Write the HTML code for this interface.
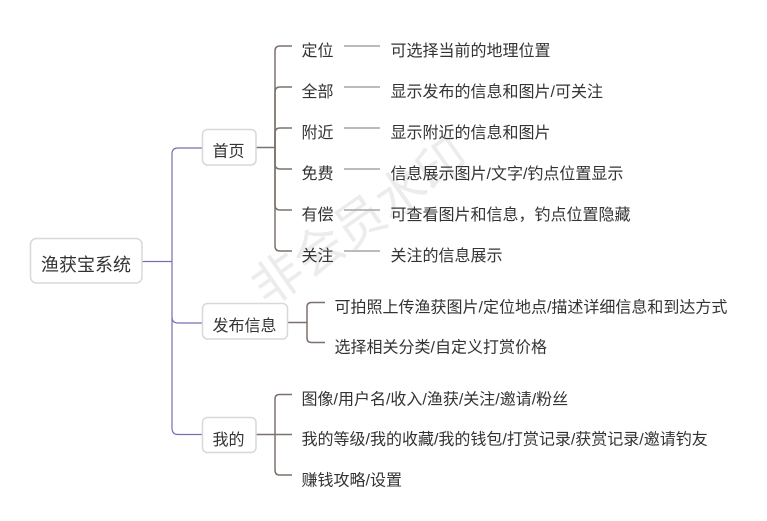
<!DOCTYPE html>
<html>
<head>
<meta charset="utf-8">
<style>
  html,body{margin:0;padding:0;background:#ffffff;}
  body{width:767px;height:521px;overflow:hidden;}
  svg{display:block;}
  text{font-family:"Liberation Sans","Noto Sans CJK SC",sans-serif;fill:#333333;}
</style>
</head>
<body>
<svg width="767" height="521" viewBox="0 0 767 521" xmlns="http://www.w3.org/2000/svg">
  <!-- watermark -->
  <text x="360" y="222" font-size="50" text-anchor="middle" dominant-baseline="central" transform="rotate(-35 360 222)" style="fill:#ececec">非会员水印</text>

  <!-- root connectors (purple) -->
  <g fill="none" stroke="#7a6db0" stroke-width="1.2">
    <path d="M142 261.5 H172"/>
    <path d="M202 148 H178 Q172 148 172 154 V261.5"/>
    <path d="M172 261.5 V317 Q172 323 178 323 H202"/>
    <path d="M172 317 V428 Q172 434.5 178 434.5 H202"/>
  </g>

  <!-- 首页 branches -->
  <g fill="none" stroke="#7b726d" stroke-width="1.5">
    <path d="M256 147.5 H275"/>
    <path d="M275 147.5 V51 Q275 46 280 46 H292"/>
    <path d="M275 147.5 V92 Q275 87 280 87 H292"/>
    <path d="M275 147.5 V133 Q275 128 280 128 H292"/>
    <path d="M275 147.5 V164 Q275 169 280 169 H292"/>
    <path d="M275 147.5 V205 Q275 210 280 210 H292"/>
    <path d="M275 147.5 V246 Q275 251 280 251 H292"/>
  </g>
  <g fill="none" stroke="#aaa4a0" stroke-width="1.5">
    <path d="M344 46 H380"/>
    <path d="M344 87 H380"/>
    <path d="M344 128 H380"/>
    <path d="M344 169 H380"/>
    <path d="M344 210 H380"/>
    <path d="M344 251 H380"/>
  </g>

  <!-- 发布信息 branches -->
  <g fill="none" stroke="#7b726d" stroke-width="1.5">
    <path d="M288 322.5 H307"/>
    <path d="M307 322.5 V307 Q307 302.5 311.5 302.5 H325"/>
    <path d="M307 322.5 V338 Q307 342.5 311.5 342.5 H325"/>
  </g>

  <!-- 我的 branches -->
  <g fill="none" stroke="#7b726d" stroke-width="1.5">
    <path d="M256 434.5 H292"/>
    <path d="M275 434.5 V399 Q275 394.5 279.5 394.5 H292"/>
    <path d="M275 434.5 V470 Q275 475 279.5 475 H292"/>
  </g>

  <!-- boxes -->
  <g fill="#ffffff" stroke="#d8d8d8" stroke-width="1.5">
    <rect x="30.5" y="238.5" width="111.5" height="44.5" rx="6"/>
    <rect x="202.5" y="129.5" width="53.5" height="35.5" rx="5"/>
    <rect x="202.5" y="303.5" width="85" height="35.5" rx="5"/>
    <rect x="202.5" y="417.5" width="53.5" height="35" rx="5"/>
  </g>

  <!-- box text -->
  <text x="41" y="271" font-size="18">渔获宝系统</text>
  <text x="212.5" y="156.5" font-size="16">首页</text>
  <text x="212.5" y="331" font-size="16">发布信息</text>
  <text x="212.5" y="445" font-size="16">我的</text>

  <!-- 首页 children -->
  <g font-size="16">
    <text x="301.5" y="56">定位</text>
    <text x="301.5" y="97">全部</text>
    <text x="301.5" y="138">附近</text>
    <text x="301.5" y="179">免费</text>
    <text x="301.5" y="220">有偿</text>
    <text x="301.5" y="261">关注</text>

    <text x="390.5" y="56">可选择当前的地理位置</text>
    <text x="390.5" y="97">显示发布的信息和图片/可关注</text>
    <text x="390.5" y="138">显示附近的信息和图片</text>
    <text x="390.5" y="179">信息展示图片/文字/钓点位置显示</text>
    <text x="390.5" y="220">可查看图片和信息，钓点位置隐藏</text>
    <text x="390.5" y="261">关注的信息展示</text>

    <!-- 发布信息 children -->
    <text x="334.5" y="312.5">可拍照上传渔获图片/定位地点/描述详细信息和到达方式</text>
    <text x="334.5" y="352.5">选择相关分类/自定义打赏价格</text>

    <!-- 我的 children -->
    <text x="301.5" y="404.5">图像/用户名/收入/渔获/关注/邀请/粉丝</text>
    <text x="301.5" y="444.5">我的等级/我的收藏/我的钱包/打赏记录/获赏记录/邀请钓友</text>
    <text x="301.5" y="485.5">赚钱攻略/设置</text>
  </g>
</svg>
</body>
</html>
